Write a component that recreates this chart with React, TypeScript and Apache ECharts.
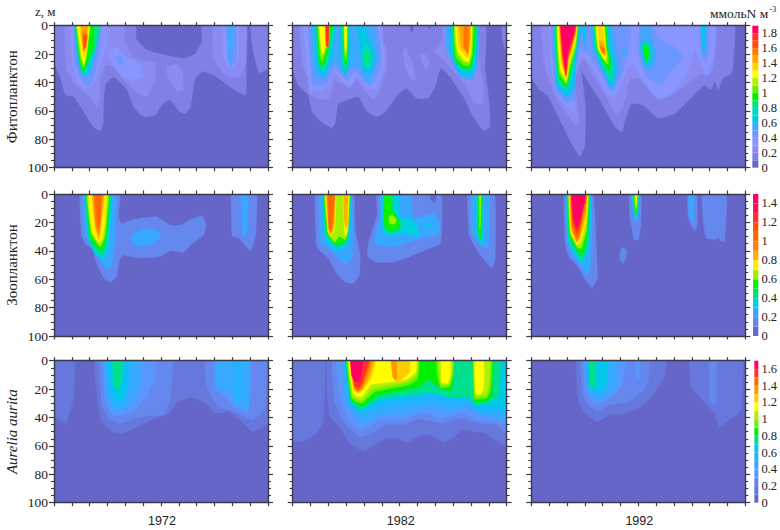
import React, { useEffect, useRef } from "react";
import * as echarts from "echarts";

type Poly = [number, number[]];

const years = ["1972", "1982", "1992"];
const rowTitles = ["Фитопланктон", "Зоопланктон", "Aurelia aurita"];
const depthRange = [0, 100];
const monthRange = [0, 12];
const floorBand: Poly = [0, [-1, -5, 13, -5, 13, 105, -1, 105]];

const phytoColors = ["#6666c8", "#8080e6", "#8a8cf2", "#8a96ff", "#6e96ff", "#3caaff", "#00c8e6", "#00d8c0", "#00e678", "#00f000", "#64f000", "#b4f000", "#ffff00", "#ffd200", "#ffaa00", "#ff7800", "#ff5000", "#ff3030", "#ff0064"];
const zooColors = ["#6666c8", "#6488ee", "#37a8ff", "#00d0e0", "#00e070", "#10f000", "#a0f000", "#ffee00", "#ffb000", "#ff8000", "#ff6a00", "#ff5000", "#ff3030", "#ff1050", "#ff0064"];
const aureliaColors = ["#6666c8", "#6678dc", "#6488ee", "#5a96ff", "#37aaff", "#1fb4ff", "#00c8e8", "#00e08c", "#00f000", "#70f000", "#b0f000", "#ffff00", "#ffcc00", "#ff9900", "#ff6600", "#ff3030", "#ff0064"];

const phyto72: Poly[] = [
  [1, [-0.3, -4, 4.55, -4, 4.6, 9, 5.2, 17, 6.3, 21, 7.3, 23, 7.9, 20, 8.3, 11, 8.3, -4, 10.75, -4, 10.78, 30, 10.75, 49, 10.1, 45, 9, 35, 8.3, 32, 7.9, 38, 7.65, 57, 7.35, 62, 7, 60, 6.5, 52, 6.1, 55, 5.67, 63, 5, 64, 4.45, 57, 4.1, 45, 3.35, 36, 2.9, 41, 2.8, 50, 2.75, 69, 2.58, 74, 2.2, 71, 1.65, 60, 1.1, 50, 0.65, 49, 0.4, 38, 0, 27, -0.3, 27]],
  [1, [11.05, -4, 12.3, -4, 12.3, 31, 12, 31, 11.5, 33, 11.2, 20, 11.05, 6]],
  [2, [0.67, -4, 0.7, 30, 1.1, 40, 2, 50, 2.4, 57, 2.55, 52, 2.6, 36, 2.9, 28, 3.35, 29, 3.9, 38, 4.85, 49, 5.2, 50, 5.67, 38, 5.67, 26, 5.2, 25, 4.45, 22, 3.95, 10, 3.93, -4]],
  [2, [6.3, 29, 6.85, 27, 7.2, 31, 7.25, 45, 6.9, 46, 6.4, 37]],
  [2, [8.95, -4, 8.95, 24, 9.7, 36, 10.4, 36, 10.75, 26, 10.75, -4]],
  [3, [1, -4, 1.05, 29, 1.47, 42, 2, 45, 2.35, 37, 2.75, 22, 3, 10, 3, -4]],
  [3, [3.05, 19, 3.45, 15, 3.95, 21, 4.8, 27, 5, 35, 4.45, 38, 3.8, 35, 3.35, 28]],
  [3, [9.5, -4, 9.5, 23, 9.8, 30, 10.1, 30, 10.35, 24, 10.35, -4]],
  [4, [1.15, -4, 1.2, 27, 1.6, 40, 2, 42, 2.25, 35, 2.58, 15, 2.64, -4]],
  [4, [3.45, 22, 3.75, 21, 3.95, 26, 3.7, 28]],
  [4, [9.7, -4, 9.75, 22, 9.9, 29, 10.2, 24, 10.2, -4]],
  [5, [1.18, -4, 1.32, 25, 1.65, 36, 2, 35, 2.3, 22, 2.58, -4]],
  [5, [9.75, -4, 9.82, 22, 9.9, 27, 9.98, 22, 10.02, -4]],
  [6, [1.2, -4, 1.4, 26, 1.65, 35, 1.9, 34, 2.2, 22, 2.58, -4]],
  [7, [1.22, -4, 1.43, 26, 1.65, 34, 1.8, 32, 2.3, 17, 2.57, -4]],
  [8, [1.23, -4, 1.45, 26, 1.65, 33, 1.75, 30, 2.25, 17, 2.55, -4]],
  [9, [1.24, -4, 1.47, 26, 1.65, 33, 1.75, 30, 2.2, 15, 2.2, -4]],
  [10, [1.25, -4, 1.5, 25, 1.65, 30, 1.8, 24, 2.05, -4]],
  [11, [1.28, -4, 1.53, 23, 1.67, 28, 1.8, 21, 2, -4]],
  [12, [1.3, -4, 1.57, 21, 1.68, 27, 1.8, 20, 1.98, -4]],
  [13, [1.4, -4, 1.6, 17, 1.7, 23, 1.8, 17, 1.95, -4]],
  [14, [1.55, -4, 1.63, 18, 1.75, 17, 1.9, -4]],
  [15, [1.6, 4, 1.65, 17, 1.8, 15, 1.87, 7]],
  [16, [1.65, 7, 1.7, 15, 1.78, 13, 1.83, 7]],
];

const phyto82: Poly[] = [
  [1, [-0.3, -4, 10.73, -4, 10.78, 30, 11, 52, 11.07, 71, 10.69, 74, 10.13, 64, 9.57, 50, 8.82, 36, 8.3, 30, 7.98, 43, 7.6, 51, 6.95, 51, 6.39, 44, 5.93, 48, 5.18, 61, 4.71, 64, 4.15, 60, 3.68, 50, 2.56, 55, 2.37, 69, 2.19, 72, 1.53, 67, 1.07, 60, 0.88, 49, 0.32, 42, 0, 32, -0.3, 32]],
  [1, [11.76, -4, 12.3, -4, 12.3, 18, 11.9, 17, 11.75, 8]],
  [0, [6.55, -4, 6.6, 3, 6.65, 5, 6.75, 3, 6.75, -4]],
  [0, [7.55, -4, 7.65, 2, 7.8, -4]],
  [2, [0.5, -4, 0.54, 27, 0.88, 38, 0.88, 48, 1.35, 51, 2, 52, 2.37, 38, 3.21, 44, 3.59, 38, 3.96, 45, 4.52, 52, 4.9, 45, 5.27, 30, 5.27, 17, 5.08, 11, 4.99, -4]],
  [2, [6.3, 14, 6.49, 20, 6.77, 29, 6.9, 39, 6.54, 36, 6.3, 28, 6.17, 20]],
  [2, [7.18, 20, 7.51, 21, 7.66, 25, 7.51, 31, 7.23, 25]],
  [2, [8.41, -4, 8.45, 11, 7.98, 17, 7.98, 19, 8.45, 24, 9, 32, 9.76, 43, 10.13, 54, 10.64, 55, 10.69, 43, 10.41, 22, 10.37, -4]],
  [3, [0.69, -4, 0.82, 29, 0.97, 45, 1.81, 45, 2.37, 34, 3.12, 43, 3.59, 36, 4.24, 45, 4.75, 44, 5.18, 27, 4.8, -4]],
  [4, [0.93, -4, 1.03, 30, 1.07, 41, 1.81, 42, 2.37, 30, 3.03, 38, 3.5, 32, 4.34, 43, 4.71, 36, 4.99, 23, 4.62, -4]],
  [5, [1.12, -4, 1.21, 35, 1.81, 37, 2.37, 25, 2.93, 35, 3.31, 28, 3.78, 31, 4.24, 41, 4.62, 30, 4.8, 21, 4.43, -4]],
  [5, [8.64, -4, 8.64, 17, 9.38, 36, 10.04, 38, 10.36, 29, 10.37, -4]],
  [6, [1.25, -4, 1.38, 30, 1.81, 35, 2.19, 22, 2.41, -4]],
  [6, [2.69, -4, 2.71, 27, 2.97, 35, 3.21, 25, 3.18, -4]],
  [6, [3.63, -4, 3.78, 17, 3.96, 31, 4.34, 34, 4.62, 22, 4.15, 5, 3.87, -4]],
  [6, [8.9, -4, 8.85, 17, 9.35, 33, 10, 35, 10.3, 25, 10.33, -4]],
  [7, [1.3, -4, 1.45, 28, 1.75, 32, 2.1, 20, 2.38, -4]],
  [7, [2.77, -4, 2.8, 25, 2.97, 32, 3.12, 24, 3.14, -4]],
  [7, [3.9, 18, 4, 28, 4.3, 30, 4.5, 22, 4.2, 12]],
  [7, [9, -4, 9, 20, 9.4, 30, 10, 32, 10.25, 22, 10.3, -4]],
  [8, [1.35, -4, 1.48, 27, 1.72, 30, 2, 20, 2.3, -4]],
  [8, [2.8, -4, 2.85, 24, 2.97, 30, 3.08, 23, 3.1, -4]],
  [8, [4, 21, 4.05, 27, 4.2, 29, 4.3, 23, 4.15, 18]],
  [8, [9.03, -4, 9.05, 22, 9.45, 30, 9.95, 31, 10.2, 20, 10.25, -4]],
  [9, [1.4, -4, 1.5, 26, 1.68, 29, 1.95, 18, 2.2, -4]],
  [9, [2.83, -4, 2.88, 23, 2.97, 29, 3.05, 22, 3.07, -4]],
  [9, [9.05, -4, 9.1, 24, 9.55, 30, 9.95, 30, 10.15, 20, 10.2, -4]],
  [10, [1.43, -4, 1.53, 22, 1.65, 26, 1.9, 16, 2.07, -4]],
  [10, [2.86, -4, 2.9, 20, 2.97, 25, 3.03, 20, 3.05, -4]],
  [10, [9.07, -4, 9.15, 22, 9.6, 28, 9.9, 28, 10.07, 20, 10.12, -4]],
  [11, [1.45, -4, 1.58, 18, 1.65, 22, 1.85, 15, 2, -4]],
  [11, [2.88, -4, 2.92, 18, 2.97, 21, 3.02, 18, 3.04, -4]],
  [11, [9.1, -4, 9.2, 19, 9.6, 26, 9.9, 26, 10.03, 18, 10.05, -4]],
  [12, [1.47, -4, 1.6, 14, 1.68, 20, 1.83, 14, 1.95, -4]],
  [12, [2.9, -4, 2.94, 15, 2.98, 18, 3.01, 15, 3.03, -4]],
  [12, [9.12, -4, 9.25, 17, 9.6, 24, 9.85, 25, 9.98, 18, 10, -4]],
  [13, [1.8, -4, 1.82, 13, 1.93, 16, 2.03, 10, 2.05, -4]],
  [13, [9.22, -4, 9.3, 15, 9.65, 21, 9.8, 23, 9.95, 15, 9.98, -4]],
  [14, [9.35, -4, 9.45, 15, 9.7, 18, 9.83, 21, 9.93, 13, 9.95, -4]],
  [15, [1.84, -4, 1.87, 13, 1.95, 16, 2.02, 10, 2.04, -4]],
  [15, [9.6, 1, 9.6, 15, 9.8, 19, 9.88, 10, 9.85, 1]],
  [17, [1.87, -4, 1.9, 14, 1.98, 15, 2.04, -4]],
];

const phyto92: Poly[] = [
  [1, [-0.3, -4, 11.31, -4, 11.3, 30, 11.21, 34, 10.75, 37, 10.47, 45, 10.28, 39, 10.09, 45, 9.72, 42, 9.25, 47, 8.04, 62, 7.11, 65, 6.27, 56, 5.62, 55, 5.24, 67, 5.09, 75, 4.68, 71, 3.84, 52, 3.1, 38, 2.82, 32, 3.04, 57, 3, 85, 2.72, 92, 2.26, 83, 1.51, 64, 0.95, 50, 0.39, 44, 0, 37, -0.3, 37]],
  [2, [0.67, -4, 0.76, 30, 1.42, 52, 2.07, 64, 2.54, 71, 2.67, 63, 2.44, 41, 2.72, 27, 3, 24, 3.47, 36, 4.22, 50, 4.68, 62, 5.06, 60, 5.34, 48, 5.52, 38, 6.27, 37, 7.11, 52, 7.85, 49, 8.88, 40, 9.5, 34, 9.9, 36, 10.2, 30, 10.28, -4]],
  [3, [1.1, -4, 1.18, 35, 1.42, 48, 1.98, 57, 2.41, 61, 2.41, 41, 2.72, 23, 2.91, 21, 3.56, 32, 4.22, 48, 4.65, 51, 4.96, 43, 5.43, 29, 5.71, 27, 6.18, 38, 7.11, 52, 7.85, 48, 8.6, 37, 9.07, 22, 9.16, 17, 9.81, 35, 10.19, 22, 10.24, -4]],
  [4, [1.23, -4, 1.36, 45, 1.98, 54, 2.41, 52, 2.44, 36, 2.72, 17, 3.28, 21, 4.4, 44, 4.87, 38, 5.24, 29, 5.52, 10, 5.52, -4]],
  [4, [6.14, -4, 5.99, 15, 6.08, 24, 6.55, 37, 7.29, 41, 7.85, 32, 8.51, 22, 8.04, 15, 7.01, 8, 6.83, -4]],
  [4, [9.44, -4, 9.53, 20, 9.81, 26, 9.99, 12, 9.9, -4]],
  [5, [1.3, -4, 1.43, 44, 1.98, 51, 2.36, 47, 2.6, 20, 2.9, -4]],
  [5, [3.34, -4, 3.47, 17, 4.13, 36, 4.55, 46, 4.96, 32, 4.78, 17, 4.4, -4]],
  [5, [2.87, -4, 2.91, 12, 3.06, 14, 3.1, -4]],
  [5, [6.2, -4, 6.14, 15, 6.36, 29, 6.74, 31, 7.01, 20, 6.74, 8, 6.5, -4]],
  [5, [9.5, -4, 9.57, 16, 9.68, 21, 9.78, 16, 9.8, -4]],
  [5, [5.1, 17, 5.4, 17, 5.35, 21, 5.15, 21]],
  [6, [1.32, -4, 1.46, 42, 1.95, 49, 2.36, 44, 2.5, 22, 2.72, -4]],
  [6, [2.95, -4, 2.97, 10, 3.03, 10, 3.05, -4]],
  [6, [3.47, -4, 3.56, 17, 4.1, 33, 4.5, 43, 4.72, 30, 4.45, 15, 4.31, -4]],
  [6, [6.1, 14, 6.4, 28, 6.75, 25, 6.7, 14, 6.4, 11]],
  [6, [9.57, -4, 9.63, 17, 9.7, 17, 9.75, -4]],
  [7, [1.35, -4, 1.48, 40, 1.95, 45, 2.28, 35, 2.47, 20, 2.68, -4]],
  [7, [3.5, -4, 3.6, 17, 4.1, 31, 4.5, 40, 4.62, 30, 4.4, 15, 4.25, -4]],
  [7, [6.2, 14, 6.42, 27, 6.68, 23, 6.62, 14, 6.38, 12]],
  [8, [1.38, -4, 1.5, 38, 1.97, 44, 2.25, 33, 2.45, 18, 2.64, -4]],
  [8, [3.53, -4, 3.65, 17, 4.1, 29, 4.45, 36, 4.5, 27, 4.3, 14, 4.2, -4]],
  [8, [6.25, 14, 6.43, 26, 6.65, 21, 6.58, 15, 6.4, 13]],
  [9, [1.42, -4, 1.55, 36, 1.97, 43, 2.2, 31, 2.45, 15, 2.6, -4]],
  [9, [3.55, -4, 3.7, 17, 4.1, 27, 4.4, 31, 4.42, 24, 4.25, 14, 4.15, -4]],
  [9, [6.3, 15, 6.45, 25, 6.6, 20, 6.52, 15, 6.38, 14]],
  [10, [1.44, -4, 1.57, 34, 1.97, 41, 2.17, 30, 2.5, 15, 2.58, -4]],
  [10, [3.57, -4, 3.72, 17, 4.15, 26, 4.33, 28, 4.3, 20, 4.2, 14, 4.1, -4]],
  [11, [1.46, -4, 1.6, 32, 1.97, 40, 2.15, 28, 2.48, 13, 2.57, -4]],
  [11, [3.6, -4, 3.75, 17, 4.15, 25, 4.25, 26, 4.2, 18, 4.05, -4]],
  [12, [1.49, -4, 1.62, 30, 1.95, 38, 2.12, 26, 2.47, 10, 2.55, -4]],
  [12, [3.63, -4, 3.78, 16, 4.1, 24, 4.22, 22, 4.17, 16, 4, -4]],
  [13, [1.58, -4, 1.68, 27, 1.95, 37, 2.1, 25, 2.46, 8, 2.54, -4]],
  [13, [3.75, -4, 3.82, 15, 4.1, 22, 4.2, 20, 4.13, 14, 3.95, -4]],
  [14, [1.6, -4, 1.72, 25, 1.95, 36, 2.08, 25, 2.45, 8, 2.52, -4]],
  [14, [3.8, 10, 3.87, 16, 4.1, 21, 4.18, 18, 4.05, 12]],
  [15, [1.62, -4, 1.75, 24, 1.95, 35.5, 2.06, 24, 2.45, 5, 2.5, -4]],
  [15, [3.85, 14, 3.95, 19, 4.12, 20, 4.1, 16]],
  [16, [1.64, -4, 1.77, 23, 1.95, 35, 2.05, 23, 2.44, 5, 2.48, -4]],
  [17, [1.65, -4, 1.78, 22, 1.95, 34, 2.03, 22, 2.43, 5, 2.46, -4]],
  [18, [1.67, -4, 1.8, 20, 1.93, 31, 2.05, 18, 2.42, 3, 2.45, -4]],
];

const zoo72: Poly[] = [
  [1, [1.52, -4, 1.55, 30, 1.84, 36, 2.21, 39, 2.3, 46, 2.77, 59, 3.15, 62, 3.52, 58, 3.67, 46, 3.86, 43, 4.83, 45, 5.96, 44, 6.52, 40, 7.27, 41, 7.73, 35, 8.39, 29, 8.52, 22, 8.3, 15.5, 7.64, 18, 7.08, 22, 6.52, 22, 5.77, 16, 4.46, 18, 3.8, 21, 3.61, 16, 3.67, -4]],
  [1, [9.98, -4, 10, 30, 10.36, 31, 11.03, 40, 11.3, 30, 11.35, -4]],
  [2, [1.65, -4, 1.74, 29, 2.2, 38, 2.5, 45, 2.96, 53, 3.25, 50, 3.4, 35, 3.43, -4]],
  [2, [4.31, 30, 4.83, 25, 5.77, 25, 5.96, 31, 5.39, 36, 4.93, 37, 4.46, 35]],
  [2, [10.5, -4, 10.55, 26, 10.7, 30, 10.85, 26, 10.88, -4]],
  [3, [1.78, -4, 1.93, 32, 2.3, 42, 2.77, 46, 3.05, 40, 3.2, -4]],
  [4, [1.8, -4, 1.98, 32, 2.4, 40, 2.7, 43, 2.95, 35, 3.15, -4]],
  [5, [1.84, -4, 2.05, 30, 2.45, 38, 2.65, 40, 2.9, 32, 3.1, -4]],
  [6, [1.86, -4, 2.1, 28, 2.5, 36, 2.6, 37, 2.85, 30, 3.05, -4]],
  [7, [1.93, -4, 2.13, 26, 2.5, 34, 2.7, 32, 2.85, 20, 2.93, -4]],
  [8, [2.15, -4, 2.3, 22, 2.5, 32, 2.65, 22, 2.82, -4]],
  [9, [2.2, -4, 2.35, 22, 2.5, 28, 2.6, 20, 2.72, -4]],
  [10, [2.3, -4, 2.4, 20, 2.5, 25, 2.6, 18, 2.65, -4]],
];

const zoo82: Poly[] = [
  [1, [1.31, -4, 1.35, 37, 1.53, 40, 2, 45, 2.47, 56, 2.93, 62, 3.4, 63, 3.74, 57, 3.78, 44, 3.5, 25, 3.36, -4]],
  [1, [4.75, -4, 4.75, 14, 4.24, 35, 4.2, 44, 4.71, 48, 5.64, 48, 6.39, 45, 7.14, 41, 8.26, 35, 8.36, 25, 8.26, -4]],
  [0, [7.6, -4, 7.75, 4, 8, 6, 8.05, -4]],
  [1, [9.85, -4, 9.9, 29, 10.41, 41, 11.16, 52, 11.35, 46, 11.29, -4]],
  [2, [1.53, -4, 1.57, 35, 2.09, 39, 2.56, 45, 2.93, 49, 3.31, 45, 3.4, 30, 3.21, -4]],
  [2, [4.9, -4, 4.9, 16, 4.58, 32, 4.71, 36, 5.64, 37, 6.95, 32, 8.17, 28, 8.26, 21, 7.98, 14, 6.77, 17, 6.54, -4]],
  [2, [10.04, -4, 10.04, 28, 10.5, 35, 10.97, 38, 10.97, -4]],
  [3, [1.72, -4, 1.85, 33, 2.5, 40, 3.1, 35, 3.25, -4]],
  [3, [5.1, -4, 5.05, 25, 5.27, 29, 6.21, 28, 7.05, 29, 6.95, 21, 6.48, 17, 5.98, 16, 5.92, -4]],
  [3, [7.4, 21, 7.6, 20, 7.7, 22, 7.5, 23]],
  [3, [10.3, -4, 10.35, 31, 10.6, 36, 10.7, 30, 10.72, -4]],
  [4, [1.76, -4, 1.9, 30, 2.5, 37, 3.05, 33, 3.2, -4]],
  [4, [5.2, -4, 5.1, 22, 5.35, 27, 6, 26, 6.1, 20, 5.7, 13, 5.5, -4]],
  [4, [10.4, -4, 10.42, 29, 10.58, 33, 10.62, -4]],
  [5, [1.8, -4, 1.95, 28, 2.5, 36, 3, 32, 3.18, -4]],
  [5, [5.2, -4, 5.12, 20, 5.4, 26, 5.9, 24, 5.95, 19, 5.6, 12, 5.4, -4]],
  [5, [10.42, -4, 10.44, 28, 10.58, 31, 10.6, -4]],
  [6, [1.82, -4, 1.97, 27, 2.35, 34, 2.6, 30, 2.97, 32, 3.15, -4]],
  [6, [5.4, 16, 5.45, 21, 5.75, 21, 5.8, 18, 5.6, 15]],
  [6, [10.45, -4, 10.5, 25, 10.57, -4]],
  [7, [1.85, -4, 2, 27, 2.13, 30, 2.35, 25, 2.42, -4]],
  [7, [2.8, -4, 2.9, 26, 3, 30, 3.1, 25, 3.17, -4]],
  [8, [1.9, -4, 2, 25, 2.13, 29, 2.3, 24, 2.38, -4]],
  [8, [2.85, -4, 2.9, 20, 3, 24, 3.07, 20, 3.1, -4]],
  [9, [1.95, -4, 2.03, 24, 2.15, 27, 2.27, 20, 2.35, -4]],
  [10, [2, -4, 2.05, 23, 2.15, 24, 2.25, 18, 2.33, -4]],
];

const zoo92: Poly[] = [
  [1, [1.88, -4, 1.92, 37, 2.16, 45, 2.63, 51, 2.91, 58, 3.41, 66, 3.71, 59, 3.66, 42, 3.41, -4]],
  [1, [5.52, -4, 5.52, 14, 5.76, 32, 5.99, 32, 6.14, 23, 6.14, -4]],
  [1, [5, 39, 5.15, 37.5, 5.35, 40, 5.3, 45, 5.12, 49, 4.98, 45]],
  [1, [8.75, -4, 8.83, 18, 9.16, 26, 9.31, 21, 9.25, -4]],
  [1, [9.59, -4, 9.66, 21, 9.81, 31, 10.3, 32, 10.5, 31, 10.6, 33, 10.84, 33.5, 10.93, -4]],
  [2, [2, -4, 2.03, 35, 2.35, 44, 2.8, 52, 3.1, 57, 3.3, 53, 3.4, 35, 3.3, -4]],
  [2, [5.65, -4, 5.7, 14, 5.9, 21, 6.05, 12, 6.05, -4]],
  [2, [8.82, -4, 8.88, 17, 9.07, 20, 9.12, -4]],
  [3, [2.02, -4, 2.07, 33, 2.5, 44, 2.9, 49, 3.25, 35, 3.3, -4]],
  [3, [5.68, -4, 5.72, 12, 5.9, 17, 6, 12, 6, -4]],
  [4, [2.07, -4, 2.12, 31, 2.5, 41, 2.9, 46, 3.2, 32, 3.22, -4]],
  [4, [5.72, -4, 5.75, 10, 5.9, 15, 5.97, 10, 5.98, -4]],
  [5, [2.1, -4, 2.15, 30, 2.55, 38, 2.85, 43, 3.1, 30, 3.2, -4]],
  [5, [5.75, -4, 5.8, 8, 5.9, 13, 5.95, 8, 5.97, -4]],
  [6, [2.12, -4, 2.2, 28, 2.6, 38, 2.8, 38, 3.1, 25, 3.18, -4]],
  [6, [5.78, -4, 5.82, 8, 5.9, 11, 5.95, -4]],
  [7, [2.15, -4, 2.22, 27, 2.6, 36, 2.75, 34, 3.07, 20, 3.16, -4]],
  [7, [5.82, -4, 5.87, 6, 5.9, 8, 5.93, -4]],
  [8, [2.2, -4, 2.25, 25, 2.55, 34, 2.75, 30, 3.05, 15, 3.14, -4]],
  [9, [2.22, -4, 2.28, 24, 2.55, 33, 2.75, 28, 3.03, 10, 3.12, -4]],
  [10, [2.25, -4, 2.3, 22, 2.55, 31, 2.75, 24, 3.02, 6, 3.1, -4]],
  [11, [2.27, -4, 2.33, 20, 2.55, 29, 2.7, 24, 3, 5, 3.08, -4]],
  [12, [2.28, -4, 2.35, 19, 2.55, 26, 2.7, 22, 3, 5, 3.07, -4]],
  [13, [2.29, -4, 2.37, 18, 2.55, 24, 2.7, 20, 3, 4, 3.05, -4]],
  [14, [2.3, -4, 2.4, 16, 2.55, 22, 2.7, 18, 3, 3, 3.03, -4]],
];

const aurelia72: Poly[] = [
  [1, [-0.3, -4, 1.12, -4, 1.12, 25, 0.9, 35, 0.67, 45, 0.45, 42, 0.2, 41, 0, 38, -0.3, 38]],
  [1, [2.36, -4, 2.4, 24, 2.68, 43, 3.33, 50.5, 3.9, 51, 4.46, 48, 5.3, 42.5, 5.77, 40, 6.42, 38, 6.89, 29, 7.64, 26, 8.39, 29, 9.05, 37, 9.79, 36, 10.45, 42, 11.1, 50, 11.57, 48, 11.95, 45, 12.3, 45, 12.3, -4]],
  [2, [2.64, -4, 2.68, 31, 3.06, 40.5, 3.71, 44, 4.46, 41, 5.2, 39, 6.14, 38, 6.52, 27, 6.61, -4]],
  [2, [8.54, -4, 8.58, 20, 9.2, 32, 10.07, 36, 11.1, 42, 11.76, 36, 11.9, 25, 11.85, -4]],
  [3, [2.81, -4, 2.87, 29, 3.24, 38, 3.8, 38.5, 4.46, 35, 5.2, 25, 5.67, 12.5, 5.67, -4]],
  [3, [9.05, -4, 9.05, 20, 9.8, 28, 10.2, 34, 10.92, 36, 11, -4]],
  [4, [2.84, -4, 2.96, 24, 3.24, 34, 3.9, 35, 4.46, 28, 4.83, 18.5, 4.83, -4]],
  [4, [9.1, -4, 9.1, 19, 9.8, 22, 10.15, 31, 10.9, 34, 10.92, -4]],
  [5, [2.92, -4, 3.05, 23, 3.43, 31, 3.9, 31, 4.18, 18, 4.31, -4]],
  [5, [10.2, -4, 10.23, 22, 10.35, 28, 10.5, 22, 10.5, -4]],
  [6, [3.05, -4, 3.24, 19.5, 3.52, 28, 3.93, 26.5, 3.99, -4]],
  [7, [3.3, -4, 3.33, 15, 3.55, 21, 3.8, 15, 3.82, -4]],
];

const aurelia82: Poly[] = [
  [1, [-0.3, -4, 1.76, -4, 1.76, 30, 1.7, 43, 1.48, 49, 0.92, 55, 0.54, 57, 0, 57, -0.3, 57]],
  [1, [2.04, -4, 2.04, 38, 2.6, 46.5, 3.25, 59, 4, 63.6, 4.65, 59, 5.21, 55, 5.87, 55, 6.43, 57.5, 7.27, 52, 7.83, 53, 8.49, 57.5, 8.95, 55, 9.51, 49, 10.26, 50, 10.82, 51, 11.57, 58, 12, 60, 12.3, 60, 12.3, -4]],
  [2, [2.32, -4, 2.36, 29, 2.88, 44, 3.72, 53.5, 4.65, 50, 5.21, 45, 6.34, 45, 7.08, 41, 8.39, 44, 9.51, 40.6, 10.36, 44, 11.38, 45, 12, 51, 12.3, 51, 12.3, -4]],
  [3, [2.54, -4, 2.69, 29, 3.25, 44, 3.9, 49, 4.84, 42, 6.15, 42, 7.18, 37, 8.39, 41, 9.51, 37, 10.36, 42, 11.38, 43, 12, 46, 12.3, 46, 12.3, -4]],
  [4, [2.93, -4, 2.95, 29, 3.44, 38, 4, 44, 5.04, 38, 6.52, 37, 7.46, 33.5, 8.95, 36, 9.89, 33.5, 10.64, 38, 12, 42, 12.3, 42, 12.3, -4]],
  [5, [3, -4, 3.16, 29, 3.53, 35, 4, 38, 5.04, 33.5, 6.52, 31, 7.83, 29, 8.95, 31, 9.89, 30, 10.36, 36, 11, 37, 11.57, 36, 12, 38, 12.3, 38, 12.3, -4]],
  [6, [3.05, -4, 3.22, 29, 3.53, 33.5, 3.9, 36, 4.84, 29, 6.52, 26.5, 7.83, 24, 8.95, 27, 9.89, 27, 10.26, 33, 11, 32.5, 11.57, 33, 12, 35, 12.3, 35, 12.3, -4]],
  [7, [3.08, -4, 3.25, 29, 3.53, 32, 3.9, 34, 4.84, 27, 6.52, 24, 7.83, 22, 8.95, 26, 9.89, 26, 10.26, 31, 10.9, 30, 11.2, 28, 11.55, 25, 11.55, -4]],
  [8, [3.1, -4, 3.28, 27, 3.55, 30, 3.9, 32, 4.84, 24, 6.52, 20, 7.2, 18, 7.6, 13, 8.4, 20, 8.9, 21, 8.9, -4]],
  [8, [10.15, -4, 10.2, 29, 10.9, 28, 11.15, 25, 11.2, -4]],
  [9, [3.12, -4, 3.3, 26, 3.55, 29, 3.9, 30, 4.6, 22, 6.5, 17, 7, 13, 7.05, -4]],
  [9, [8.1, -4, 8.1, 10, 8.3, 19, 8.8, 18, 9, 10, 9, -4]],
  [9, [10.15, -4, 10.2, 27, 10.9, 26, 11.1, 20, 11.15, -4]],
  [10, [3.14, -4, 3.35, 25, 3.6, 27, 3.9, 28, 4.5, 20, 6.4, 15, 6.95, 10, 7, -4]],
  [10, [8.2, -4, 8.3, 17, 8.8, 16, 8.95, 8, 8.95, -4]],
  [10, [10.2, -4, 10.25, 25, 10.85, 24, 11, 18, 11.05, -4]],
  [11, [3.18, -4, 3.4, 23, 3.6, 25, 3.9, 25, 4.4, 17, 5.5, 15, 6.4, 13, 6.9, 8, 6.9, -4]],
  [11, [8.35, -4, 8.35, 15, 8.7, 16, 8.85, 8, 8.85, -4]],
  [11, [10.2, -4, 10.28, 23, 10.5, 24, 10.7, 20, 10.7, -4]],
  [12, [3.2, -4, 3.42, 21, 3.65, 23, 3.9, 21, 4.4, 12, 4.7, -4]],
  [12, [5.5, -4, 5.6, 10, 5.9, 16, 6.15, 13, 6.55, 8, 6.55, -4]],
  [13, [3.22, -4, 3.45, 20, 3.65, 22, 3.9, 20, 4.3, 10, 4.55, -4]],
  [13, [5.53, -4, 5.6, 11, 5.75, 14, 5.85, 11, 5.8, -4]],
  [14, [3.25, -4, 3.47, 19, 3.68, 21, 3.9, 18, 4.2, 8, 4.4, -4]],
  [15, [3.3, -4, 3.5, 18, 3.7, 19, 3.9, 15, 4.1, 7, 4.35, -4]],
  [16, [3.27, -4, 3.3, 10, 3.5, 15, 3.75, 14, 3.9, 5, 3.95, -4]],
];

const aurelia92: Poly[] = [
  [1, [2.6, -4, 2.65, 29, 3.03, 37, 3.68, 43, 4.43, 38, 5.08, 38, 6.2, 32, 6.95, 22, 7.51, 10, 7.51, -4]],
  [1, [8.95, -4, 8.95, 18, 9.76, 30, 10.32, 38, 10.54, 46.5, 10.97, 43, 11.53, 38, 11.77, 33.5, 11.81, -4]],
  [2, [2.84, -4, 2.9, 25, 3.21, 31, 3.68, 35.5, 4.43, 31, 5.46, 29, 6.39, 20, 6.58, 12.5, 6.58, -4]],
  [2, [9.98, -4, 10.03, 29, 10.22, 31, 10.41, 29, 10.37, -4]],
  [3, [2.97, -4, 3.03, 23, 3.59, 31, 4.43, 26.5, 5.08, 18, 5.27, -4]],
  [3, [5.83, -4, 5.85, 12, 6.05, 13, 6.07, -4]],
  [4, [3.08, -4, 3.16, 19.5, 3.68, 28, 4.34, 24, 4.8, 17, 4.77, -4]],
  [5, [3.16, -4, 3.21, 18, 3.68, 24, 4.24, 19, 4.34, -4]],
  [6, [3.2, -4, 3.3, 19, 3.68, 21, 4.15, 18, 4.3, -4]],
  [7, [3.27, -4, 3.3, 18, 3.45, 20, 3.58, 15, 3.59, -4]],
];

const rowsData = [
  { colors: phytoColors, panels: [phyto72, phyto82, phyto92], labelMax: 1.9 },
  { colors: zooColors, panels: [zoo72, zoo82, zoo92], labelMax: 1.5 },
  { colors: aureliaColors, panels: [aurelia72, aurelia82, aurelia92], labelMax: 1.7 },
];

const SERIF = "Liberation Serif";
const SANS = "Liberation Sans";
const LINE = "#3a3a48";
const colLeft = [54, 292.7, 531.3];
const rowTop = [25.7, 194, 360.7];
const PW = 214;
const PH = 142;
const barLeft = [752.3, 753, 754.3];

function buildOption() {
  const grid: any[] = [];
  const xAxis: any[] = [];
  const yAxis: any[] = [];
  const series: any[] = [];
  const graphic: any[] = [];

  const line = { show: true, onZero: false, lineStyle: { color: LINE, width: 1.4 } };
  rowsData.forEach((row, r) => {
    row.panels.forEach((polys, c) => {
      const g = grid.length;
      grid.push({ left: colLeft[c], top: rowTop[r], width: PW, height: PH });
      ["bottom", "top"].forEach((position) => {
        xAxis.push({
          gridIndex: g, type: "value", position, min: monthRange[0], max: monthRange[1], interval: 1, z: 5,
          axisLine: line, axisTick: { show: true, length: 3.5, lineStyle: { color: LINE, width: 1.2 } },
          axisLabel: { show: false }, splitLine: { show: false }, minorTick: { show: false },
        });
      });
      ["left", "right"].forEach((position, side) => {
        yAxis.push({
          gridIndex: g, type: "value", position, inverse: true, min: depthRange[0], max: depthRange[1], interval: 20, z: 5,
          axisLine: line, axisTick: { show: true, length: 5, lineStyle: { color: LINE, width: 1.2 } },
          minorTick: { show: true, splitNumber: 4, length: 3, lineStyle: { color: LINE, width: 1.1 } },
          axisLabel: { show: c === 0 && side === 0, margin: 6, color: "#222", fontFamily: SERIF, fontSize: 13.5 },
          splitLine: { show: false }, minorSplitLine: { show: false },
        });
      });
      const all: Poly[] = [floorBand, ...polys];
      series.push({
        type: "custom", coordinateSystem: "cartesian2d", xAxisIndex: 2 * g, yAxisIndex: 2 * g, clip: true, silent: true,
        data: all.map((_, i) => [i, 0]),
        encode: { x: 0, y: 1 },
        renderItem: (params: any, api: any) => {
          const [level, flat] = all[params.dataIndex];
          const points: number[][] = [];
          for (let i = 0; i < flat.length; i += 2) points.push(api.coord([flat[i], flat[i + 1]]));
          return { type: "polygon", shape: { points, smooth: 0.12 }, style: { fill: row.colors[level], stroke: row.colors[level], lineWidth: 0.4 } };
        },
      });
    });

    // colour bar
    const b = grid.length;
    grid.push({ left: barLeft[r], top: rowTop[r], width: 9.5, height: PH });
    xAxis.push({ gridIndex: b, type: "value", min: 0, max: 1, show: false });
    xAxis.push({ gridIndex: b, type: "value", min: 0, max: 1, show: false });
    yAxis.push({
      gridIndex: b, type: "value", position: "right", min: 0, max: row.labelMax, interval: 0.2,
      axisLine: { show: false }, axisTick: { show: false }, splitLine: { show: false },
      axisLabel: { show: true, showMaxLabel: false, margin: 3, color: "#222", fontFamily: SERIF, fontSize: 12.5, formatter: (v: number) => String(+v.toFixed(1)) },
    });
    yAxis.push({ gridIndex: b, type: "value", min: 0, max: row.labelMax, show: false });
    series.push({
      type: "custom", coordinateSystem: "cartesian2d", xAxisIndex: 2 * b, yAxisIndex: 2 * b, silent: true,
      data: row.colors.map((_, i) => [i, 0]),
      encode: { x: 1, y: 0 },
      renderItem: (params: any, api: any) => {
        const i = params.dataIndex;
        const p0 = api.coord([0, i / 10]);
        const p1 = api.coord([1, (i + 1) / 10]);
        return { type: "rect", shape: { x: p0[0], y: p1[1], width: p1[0] - p0[0], height: p0[1] - p1[1] }, style: { fill: row.colors[i], stroke: "rgba(255,255,255,0.25)", lineWidth: 0.3 } };
      },
    });

    graphic.push({
      type: "text", x: 12, y: rowTop[r] + PH / 2, rotation: Math.PI / 2,
      style: { text: rowTitles[r], fontFamily: SERIF, fontSize: 15, fontStyle: r === 2 ? "italic" : "normal", fill: "#222", align: "center", verticalAlign: "middle" },
    });
  });

  years.forEach((y, c) => {
    graphic.push({
      type: "text", x: colLeft[c] + PW / 2 + 1, y: 521,
      style: { text: y, fontFamily: SANS, fontSize: 12.5, fill: "#222", align: "center", verticalAlign: "middle" },
    });
  });
  graphic.push({ type: "text", x: 35, y: 11, style: { text: "z, м", fontFamily: SERIF, fontSize: 13, fill: "#222", align: "left", verticalAlign: "middle" } });
  graphic.push({ type: "text", x: 710, y: 13, style: { text: "ммольN м", fontFamily: SERIF, fontSize: 13.5, fill: "#222", align: "left", verticalAlign: "middle" } });
  graphic.push({ type: "text", x: 769.5, y: 9, style: { text: "-3", fontFamily: SERIF, fontSize: 8, fill: "#222", align: "left", verticalAlign: "middle" } });

  return { animation: false, backgroundColor: "#fff", grid, xAxis, yAxis, series, graphic };
}

export default function App() {
  const ref = useRef<HTMLDivElement>(null);
  useEffect(() => {
    document.body.style.margin = "0";
    const chart = echarts.init(ref.current!, undefined, { renderer: "svg" });
    chart.setOption(buildOption() as any);
    return () => chart.dispose();
  }, []);
  return <div ref={ref} style={{ width: 780, height: 530 }} />;
}
